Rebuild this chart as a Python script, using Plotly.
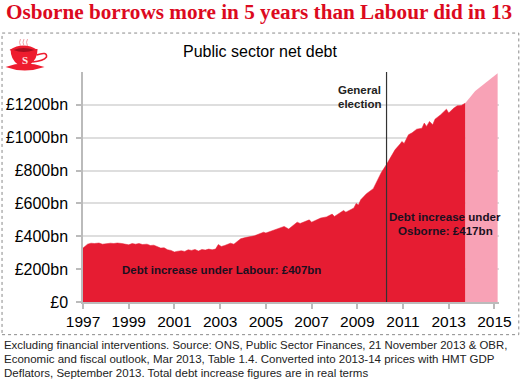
import plotly.graph_objects as go

actual_years = [1997.0,1997.1,1997.2,1997.35,1997.5,1997.7,1997.85,1998.0,1998.2,1998.35,1998.5,1998.7,1998.85,1999.0,1999.15,1999.3,1999.45,1999.6,1999.8,1999.95,2000.1,2000.25,2000.4,2000.55,2000.7,2000.85,2001.0,2001.1,2001.3,2001.45,2001.6,2001.75,2001.9,2002.05,2002.2,2002.35,2002.5,2002.65,2002.8,2002.92,2003.05,2003.2,2003.45,2003.6,2003.9,2004.1,2004.3,2004.5,2004.7,2004.9,2005.0,2005.2,2005.4,2005.6,2005.8,2006.0,2006.2,2006.37,2006.5,2006.7,2006.9,2007.0,2007.2,2007.4,2007.65,2007.9,2008.0,2008.2,2008.4,2008.5,2008.7,2008.85,2008.95,2009.05,2009.15,2009.4,2009.7,2009.85,2009.95,2010.05,2010.27,2010.4,2010.52,2010.65,2010.88,2010.95,2011.05,2011.24,2011.4,2011.6,2011.83,2011.93,2012.03,2012.16,2012.3,2012.4,2012.65,2012.9,2013.0,2013.2,2013.37,2013.55,2013.72]
actual_debt = [328,340,352,358,356,359,352,354,358,356,359,356,350,348,356,352,356,350,352,344,346,336,328,330,318,314,304,308,312,308,318,314,320,310,320,316,322,318,322,350,338,344,358,352,385,392,398,403,414,425,420,430,438,448,460,444,468,486,478,488,500,486,498,511,518,535,521,538,557,547,562,572,600,590,622,659,690,730,754,788,835,868,896,926,963,977,965,1018,1030,1052,1058,1089,1069,1099,1079,1113,1140,1174,1150,1178,1194,1196,1210]
forecast_years = [2013.72,2014.16,2015.14]
forecast_debt = [1210,1285,1393]
year_ticks = [1997,1999,2001,2003,2005,2007,2009,2011,2013,2015]
debt_ticks = [0,200,400,600,800,1000,1200]
debt_tick_text = ["£0","£200bn","£400bn","£600bn","£800bn","£1000bn","£1200bn"]
election_year = 2010.28

W, H = 520, 381
L, R, T, B = 82.5, 21.3, 72, 78.7
SANS = "Liberation Sans"
fig = go.Figure()
fig.add_trace(go.Scatter(x=forecast_years, y=forecast_debt, fill="tozeroy", mode="lines",
                         line=dict(width=0), fillcolor="#F8A2B6", hoverinfo="skip", showlegend=False))
fig.add_trace(go.Scatter(x=actual_years, y=actual_debt, fill="tozeroy", mode="lines",
                         line=dict(width=0.5, color="#E61C32"), fillcolor="#E61C32", showlegend=False))

def px(x): return (x - L) / (W - L - R)
def py(y): return (H - B - y) / (H - T - B)

def ptext(x, y, text, size, color="#000", family=SANS, anchor="left"):
    fig.add_annotation(xref="paper", yref="paper", x=px(x), y=py(y), text=text, showarrow=False,
                       xanchor=anchor, yanchor="middle", align=anchor,
                       font=dict(family=family, size=size, color=color), borderpad=0, borderwidth=0)

fig.update_layout(
    width=W, height=H, margin=dict(l=L, r=R, t=T, b=B, pad=0, autoexpand=False),
    paper_bgcolor="white", plot_bgcolor="white", showlegend=False,
    xaxis=dict(range=[1997, 2015.2], tickmode="array", tickvals=year_ticks, showgrid=False, zeroline=False,
               ticks="outside", ticklen=5, tickcolor="#BBBBBB", tickwidth=1.5, showline=True, automargin=False,
               linecolor="#BBBBBB", linewidth=1.5, tickfont=dict(family=SANS, size=15.5, color="#000"),
               ticklabelstandoff=0),
    yaxis=dict(range=[0, 1400], tickmode="array", tickvals=debt_ticks, ticktext=debt_tick_text, showgrid=True,
               gridcolor="#DEDEDE", gridwidth=1.5, zeroline=False, ticks="outside", ticklen=5, automargin=False,
               tickcolor="#BBBBBB", tickwidth=1.5, showline=True, linecolor="#BBBBBB", linewidth=1.5,
               tickfont=dict(family=SANS, size=16, color="#000"), ticklabelstandoff=5),
)

# dotted frame
fig.add_shape(type="rect", xref="paper", yref="paper", x0=px(1.5), x1=px(518.5), y0=py(335), y1=py(33),
              line=dict(color="#8A8A8A", width=1, dash="dot"), layer="below")
# election marker
fig.add_shape(type="line", xref="x", yref="y", x0=election_year, x1=election_year, y0=0, y1=1400,
              line=dict(color="#333333", width=1.2))

ptext(259, 12, "Osborne borrows more in 5 years than Labour did in 13", 21.2, "#DC0A1E", "Liberation Serif, serif", "center")
fig.layout.annotations[-1].font.weight = "bold"
ptext(260, 51, "Public sector net debt", 16, "#000", SANS, "center")
for y, t, s in [(345, "Excluding financial interventions. Source: ONS, Public Sector Finances, 21 November 2013 &amp; OBR,", 11.4),
             (359, "Economic and fiscal outlook, Mar 2013, Table 1.4. Converted into 2013-14 prices with HMT GDP", 11.5),
             (373, "Deflators, September 2013. Total debt increase figures are in real terms", 11.5)]:
    ptext(3, y, t, s, "#222")
for y, t in [(90, "General"), (104, "election")]:
    ptext(381, y, "<b>" + t + "</b>", 11.5, "#222", SANS, "right")
ptext(221, 270, "<b>Debt increase under Labour: £407bn</b>", 11.5, "#1a1020", SANS, "center")
ptext(445, 217, "<b>Debt increase under</b>", 11.6, "#1a1020", SANS, "center")
ptext(445, 231, "<b>Osborne: £417bn</b>", 11.6, "#1a1020", SANS, "center")

# teacup logo
def path(d, fill=None, line=None, w=1):
    fig.add_shape(type="path", xref="paper", yref="paper", path=d,
                  fillcolor=fill, line=dict(color=line or "rgba(0,0,0,0)", width=w))
def P(x, y): return f"{px(x):.4f},{py(y):.4f}"
RED = "#EE1C2E"
path(f"M{P(5,67)} Q{P(24,60)} {P(44,67)} Q{P(24,74)} {P(5,67)}Z", RED)
path(f"M{P(10,49)} L{P(37,49)} Q{P(37,60)} {P(29,65)} L{P(18,65)} Q{P(10,60)} {P(10,49)}Z", RED)
path(f"M{P(9,50)} Q{P(23,41)} {P(37,50)} Q{P(23,57)} {P(9,50)}Z", RED)
path(f"M{P(13,50)} Q{P(23,46)} {P(34,50)} Q{P(23,54)} {P(13,50)}Z", "#A50E1E")
path(f"M{P(36,55)} Q{P(47,51)} {P(46,57)} Q{P(43,61)} {P(32,62)}", None, RED, 1.5)
for x in (20, 23.5, 27):
    path(f"M{P(x,46)} Q{P(x-2,42)} {P(x,39)}", None, "#F4A0A8", 1)
ptext(24.5, 60, "<b>S</b>", 11, "#FFE8E8", "Liberation Serif, serif", "center")

fig.write_html("out.html", config={"displayModeBar": False}, post_script="document.body.style.margin='0';")
